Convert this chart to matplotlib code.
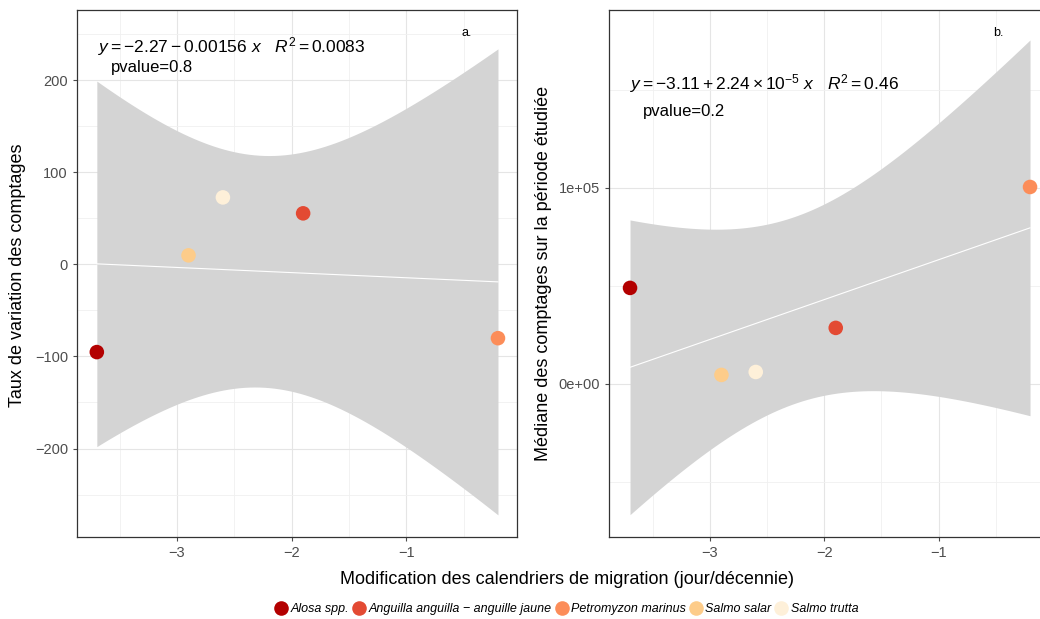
import numpy as np
import matplotlib
matplotlib.use("Agg")
import matplotlib.pyplot as plt
from matplotlib.lines import Line2D
from matplotlib.ticker import MultipleLocator

# ==========================
# Data
# ==========================

species = [
    "Alosa spp.",
    "Anguilla anguilla \u2212 anguille jaune",
    "Petromyzon marinus",
    "Salmo salar",
    "Salmo trutta",
]
colors = ["#B30000", "#E34A33", "#FC8D59", "#FDCC8A", "#FEF0D9"]

migration = np.array([-3.70, -1.90, -0.20, -2.90, -2.60])
taux = np.array([-95.3, 55.3, -80.2, 9.7, 72.6])
mediane = np.array([49000, 28600, 100500, 4600, 6100])

eq_a = r"$y = -2.27 - 0.00156\ x\quad R^2 = 0.0083$"
eq_b = r"$y = -3.11 + 2.24 \times 10^{-5}\ x\quad R^2 = 0.46$"
p_a = "pvalue=0.8"
p_b = "pvalue=0.2"

T975 = 3.182446  # t quantile, df = 3

plt.rcParams["font.family"] = ["Liberation Sans", "DejaVu Sans"]
plt.rcParams["mathtext.fontset"] = "custom"
plt.rcParams["mathtext.rm"] = "Liberation Sans"
plt.rcParams["mathtext.it"] = "Liberation Sans:italic"


def lm_band(x, y, n=80):
    slope, intercept = np.polyfit(x, y, 1)
    xs = np.linspace(x.min(), x.max(), n)
    fit = intercept + slope * xs
    resid = y - (intercept + slope * x)
    s = np.sqrt(np.sum(resid ** 2) / (len(x) - 2))
    sxx = np.sum((x - x.mean()) ** 2)
    se = s * np.sqrt(1 / len(x) + (xs - x.mean()) ** 2 / sxx)
    return xs, fit, fit - T975 * se, fit + T975 * se


def style(ax):
    ax.set_facecolor("white")
    ax.grid(which="major", color="#E5E5E5", linewidth=0.8)
    ax.grid(which="minor", color="#F0F0F0", linewidth=0.6)
    ax.set_axisbelow(True)
    for sp in ax.spines.values():
        sp.set_color("#333333")
        sp.set_linewidth(0.9)
    ax.tick_params(which="major", direction="out", length=3, color="#4D4D4D",
                   labelcolor="#4D4D4D", labelsize=10.5)
    ax.tick_params(which="minor", length=0)
    ax.xaxis.set_major_locator(MultipleLocator(1))
    ax.xaxis.set_minor_locator(MultipleLocator(0.5))


fig = plt.figure(figsize=(10.4, 6.19), dpi=100)

ax1 = fig.add_axes([77 / 1040, 82 / 619, 440 / 1040, 527 / 619])
ax2 = fig.add_axes([609 / 1040, 82 / 619, 440 / 1040, 527 / 619])

for ax, yv, tag in [(ax1, taux, "a."), (ax2, mediane, "b.")]:
    style(ax)
    xs, fit, lo, hi = lm_band(migration, yv.astype(float))
    ax.fill_between(xs, lo, hi, color="#D4D4D4", linewidth=0, zorder=2)
    ax.plot(xs, fit, color="white", linewidth=0.8, zorder=3)
    ax.scatter(migration, yv, c=colors, s=110, linewidths=0, zorder=4)
    ax.text(0.873, 0.956, tag, transform=ax.transAxes, fontsize=9,
            ha="left", va="center")

ax1.text(0.048, 0.930, eq_a, transform=ax1.transAxes, fontsize=12.5,
         ha="left", va="center")
ax1.text(0.077, 0.890, p_a, transform=ax1.transAxes, fontsize=12,
         ha="left", va="center")
ax2.text(0.048, 0.860, eq_b, transform=ax2.transAxes, fontsize=12.5,
         ha="left", va="center")
ax2.text(0.077, 0.808, p_b, transform=ax2.transAxes, fontsize=12,
         ha="left", va="center")

ax1.set_xlim(-3.873, -0.034)
ax1.set_ylim(-296, 276)
ax1.yaxis.set_major_locator(MultipleLocator(100))
ax1.yaxis.set_minor_locator(MultipleLocator(50))

ax2.set_xlim(-3.884, -0.034)
ax2.set_ylim(-78100, 190800)
ax2.yaxis.set_major_locator(MultipleLocator(100000))
ax2.yaxis.set_minor_locator(MultipleLocator(50000))
ax2.yaxis.set_major_formatter(
    plt.FuncFormatter(lambda v, p: "0e+00" if v == 0 else f"{v:.0e}")
)

fig.text(18 / 1040, 1 - 275 / 619, "Taux de variation des comptages",
         rotation=90, ha="center", va="center", fontsize=13)
fig.text(543 / 1040, 1 - 273 / 619, "Médiane des comptages sur la période étudiée",
         rotation=90, ha="center", va="center", fontsize=13)
fig.text(567 / 1040, 1 - 580 / 619,
         "Modification des calendriers de migration (jour/décennie)",
         ha="center", va="center", fontsize=13)

handles = [
    Line2D([], [], marker="o", linestyle="", markersize=10.5,
           markerfacecolor=c, markeredgewidth=0)
    for c in colors
]
fig.legend(handles, species, loc="center", bbox_to_anchor=(566 / 1040, 1 - 609 / 619),
           ncol=5, frameon=False, handletextpad=0.15, columnspacing=0.2,
           handlelength=1.2, prop={"style": "italic", "size": 9})

plt.savefig("out.png", dpi=100)
